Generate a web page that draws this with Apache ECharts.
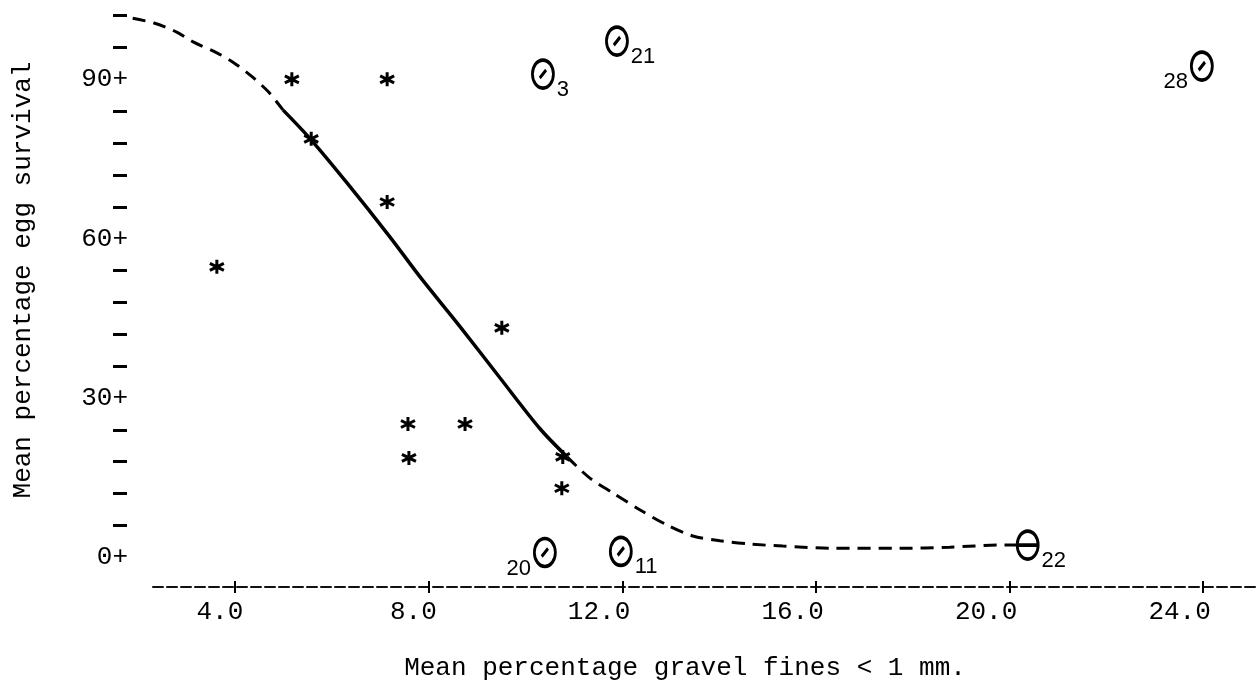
<!DOCTYPE html>
<html>
<head>
<meta charset="utf-8">
<script src="https://cdn.jsdelivr.net/npm/echarts@6/dist/echarts.min.js"></script>
<style>
html,body{margin:0;padding:0;background:#fff;}
#chart{width:1257px;height:690px;}
</style>
</head>
<body>
<div id="chart"></div>
<script>
// ---- data ----
const xTicks = [4, 8, 12, 16, 20, 24];
const xTickLabels = ['4.0', '8.0', '12.0', '16.0', '20.0', '24.0'];
const yLabelValues = [0, 30, 60, 90];
const yTickLabels = ['0+', '30+', '60+', '90+'];
const yMinorTicks = [6, 12, 18, 24, 36, 42, 48, 54, 66, 72, 78, 84, 96, 102];

const xTitle = 'Mean percentage gravel fines < 1 mm.';
const yTitle = 'Mean percentage egg survival';

// asterisk points
const starX = [5.17, 7.14, 5.57, 7.14, 3.62, 9.51, 7.57, 8.75, 7.59, 10.77, 10.75];
const starY = [90, 90, 78.8, 66.9, 54.7, 43.2, 25.1, 25.1, 18.7, 18.9, 13.0];

// theta (labelled) points
const thetaIds = ['3', '21', '28', '20', '11', '22'];
const thetaX = [10.36, 11.89, 23.98, 10.40, 11.97, 20.38];
const thetaY = [91, 97.2, 92.5, 0.9, 1.1, 2.3];
const thetaSide = ['right', 'right', 'left', 'left', 'right', 'right'];

// fitted curve
const curveTopX = [1.88, 2.32, 2.79, 3.14, 3.64, 3.99, 4.36, 4.69, 4.99];
const curveTopY = [101.5, 100.6, 98.9, 97.0, 94.9, 93.0, 90.4, 87.6, 84.2];
const curveMidX = [4.99, 5.55, 6.31, 7.20, 7.82, 8.65, 9.47, 10.30, 10.86];
const curveMidY = [84.2, 78.8, 70.5, 60.3, 52.8, 43.4, 33.8, 24.2, 18.9];
const curveLowX = [10.86, 11.33, 11.81, 12.37, 12.92, 13.46, 14.02, 14.64, 15.32, 16.36, 17.74, 18.77, 19.81, 20.14];
const curveLowY = [18.9, 14.9, 12.1, 8.9, 6.1, 4.0, 3.1, 2.5, 2.1, 1.7, 1.7, 1.9, 2.3, 2.3];

// ---- build ----
const zip = (a, b) => a.map((v, i) => [v, b[i]]);
const MONO = "'Liberation Mono','DejaVu Sans Mono',monospace";
const SANS = "'Liberation Sans','DejaVu Sans',sans-serif";

const ellipse = 'M0,-14 C5.52,-14 10,-7.73 10,0 C10,7.73 5.52,14 0,14 C-5.52,14 -10,7.73 -10,0 C-10,-7.73 -5.52,-14 0,-14 Z';
const thetaSlash = 'path://' + ellipse + ' M-3,4 L3,-4';
const thetaBar = 'path://' + ellipse + ' M-10,0 L10,0';
const asterisk = 'path://M0,-6 L0,6 M-5.2,-3 L5.2,3 M-5.2,3 L5.2,-3';

const thetaData = thetaIds.map((id, i) => ({
  name: id,
  value: [thetaX[i], thetaY[i]],
  symbol: id === '22' ? thetaBar : thetaSlash,
  label: { position: thetaSide[i] }
}));

// plot scale: 48.38 px per x unit; grid 0 starts 26 px left of grid 1
const X_MAX = 25.12, X_MIN_AXIS = 2.3, X_MIN_PLOT = 2.3 - 26 / 48.38;

const chart = echarts.init(document.getElementById('chart'), null, { renderer: 'canvas' });
chart.setOption({
  backgroundColor: '#ffffff',
  animation: false,
  grid: [
    { left: 127, right: 0, top: 5, bottom: 103, containLabel: false, outerBoundsMode: 'none' },
    { left: 153, right: 0, top: 5, bottom: 103, containLabel: false, outerBoundsMode: 'none' }
  ],
  xAxis: [
    {
      gridIndex: 0, type: 'value', min: X_MIN_PLOT, max: X_MAX,
      axisLine: { show: false, onZero: false },
      axisTick: { show: true, inside: true, customValues: xTicks, length: 6, lineStyle: { color: '#000', width: 2 } },
      axisLabel: { show: false },
      splitLine: { show: false }
    },
    {
      gridIndex: 1, type: 'value', min: X_MIN_AXIS, max: X_MAX,
      name: xTitle,
      nameLocation: 'middle',
      nameGap: 68,
      nameTextStyle: { fontFamily: MONO, fontSize: 26, color: '#000', padding: [0, 40, 0, 0] },
      axisLine: { show: true, onZero: false, lineStyle: { color: '#111', width: 2, type: [10, 4] } },
      axisTick: { show: true, customValues: xTicks, length: 6, lineStyle: { color: '#000', width: 2 } },
      axisLabel: {
        show: true,
        customValues: xTicks,
        formatter: v => xTickLabels[xTicks.indexOf(Math.round(v))] || '',
        fontFamily: MONO, fontSize: 26, color: '#000',
        margin: 12, align: 'right', padding: [0, -8, 0, 0]
      },
      splitLine: { show: false }
    }
  ],
  yAxis: [
    {
      gridIndex: 0, type: 'value', min: -5.6, max: 104,
      name: yTitle,
      nameLocation: 'middle',
      nameRotate: 90,
      nameGap: 91,
      nameTextStyle: { fontFamily: MONO, fontSize: 26, color: '#000', padding: [0, 0, 0, 32] },
      axisLine: { show: false },
      axisTick: { show: true, customValues: yMinorTicks, length: 14, lineStyle: { color: '#000', width: 3 } },
      axisLabel: {
        show: true,
        customValues: yLabelValues,
        formatter: v => yTickLabels[yLabelValues.indexOf(Math.round(v))] || '',
        fontFamily: MONO, fontSize: 26, color: '#000', margin: -1
      },
      splitLine: { show: false }
    },
    { gridIndex: 1, type: 'value', min: -5.6, max: 104, show: false }
  ],
  series: [
    {
      type: 'line', xAxisIndex: 0, yAxisIndex: 0, data: zip(curveTopX, curveTopY), smooth: 0.3, symbol: 'none', clip: false,
      lineStyle: { color: '#000', width: 3, type: [13, 8] }
    },
    {
      type: 'line', xAxisIndex: 0, yAxisIndex: 0, data: zip(curveMidX, curveMidY), smooth: 0.3, symbol: 'none', clip: false,
      lineStyle: { color: '#000', width: 3.5, type: 'solid' }
    },
    {
      type: 'line', xAxisIndex: 0, yAxisIndex: 0, data: zip(curveLowX, curveLowY), smooth: 0.3, symbol: 'none', clip: false,
      lineStyle: { color: '#000', width: 3, type: [13, 8] }
    },
    {
      type: 'scatter', xAxisIndex: 0, yAxisIndex: 0, data: zip(starX, starY), symbol: asterisk, symbolSize: 14,
      itemStyle: { color: 'rgba(0,0,0,0)', borderColor: '#000', borderWidth: 3, opacity: 1 }
    },
    {
      type: 'scatter', xAxisIndex: 0, yAxisIndex: 0, data: thetaData, symbolSize: [21, 28], clip: false,
      itemStyle: { color: 'rgba(0,0,0,0)', borderColor: '#000', borderWidth: 3.2, opacity: 1 },
      label: {
        show: true, formatter: '{b}', distance: 2, offset: [0, 16],
        fontFamily: SANS, fontSize: 22, color: '#000'
      }
    }
  ]
});
</script>
</body>
</html>
